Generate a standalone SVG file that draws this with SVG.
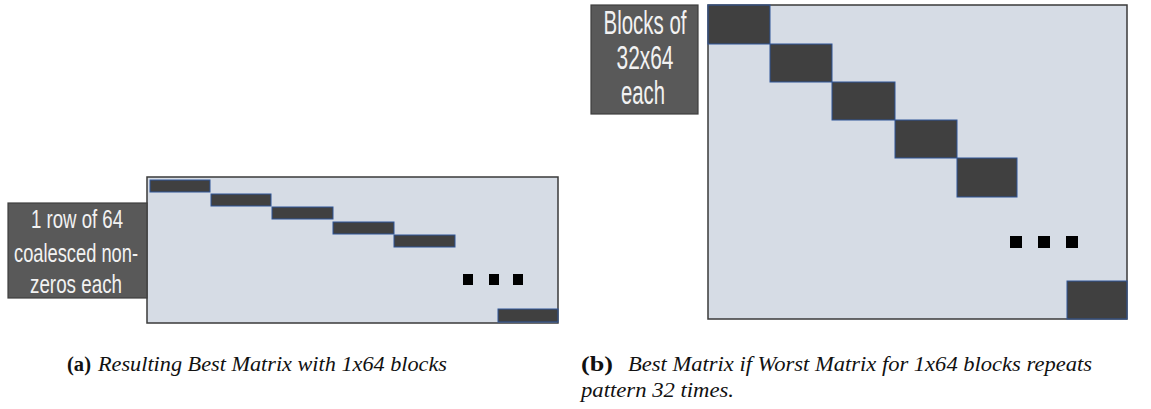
<svg xmlns="http://www.w3.org/2000/svg" width="1151" height="409" viewBox="0 0 1151 409">
  <style>
    .matrix { fill: #d6dce5; stroke: #3a3a3a; stroke-width: 1.5; }
    .block { fill: #404040; stroke: #2f5597; stroke-width: 1; }
    .dot { fill: #000000; }
    .labelbox { fill: #595959; stroke: #3f3f3f; stroke-width: 1.2; }
    .label { fill: #f2f2f2; font-family: "Liberation Sans", "DejaVu Sans", sans-serif; text-anchor: middle; }
    .cap { font-family: "Liberation Serif", "DejaVu Serif", serif; font-size: 20px; fill: #111111; }
    .capb { font-weight: bold; font-style: normal; }
    .capi { font-style: italic; }
  </style>

  <!-- (a) row-block matrix -->
  <g id="matrix-a">
    <rect class="matrix" x="147" y="177" width="411" height="146"/>
    <rect class="block" x="150" y="180" width="60" height="12"/>
    <rect class="block" x="211" y="194" width="60" height="12"/>
    <rect class="block" x="272" y="207" width="61" height="12"/>
    <rect class="block" x="333" y="222" width="61" height="12"/>
    <rect class="block" x="394" y="235" width="61" height="12"/>
    <rect class="block" x="498" y="309" width="60" height="13"/>
    <rect class="dot" x="463" y="274" width="10" height="11"/>
    <rect class="dot" x="489" y="274" width="10" height="11"/>
    <rect class="dot" x="513" y="274" width="10" height="11"/>
  </g>

  <g id="label-a">
    <rect class="labelbox" x="8" y="203" width="139" height="95"/>
    <text class="label" x="77" y="228" font-size="25" textLength="92" lengthAdjust="spacingAndGlyphs">1 row of 64</text>
    <text class="label" x="76" y="262" font-size="25" textLength="124" lengthAdjust="spacingAndGlyphs">coalesced non-</text>
    <text class="label" x="76" y="293" font-size="25" textLength="92" lengthAdjust="spacingAndGlyphs">zeros each</text>
  </g>

  <!-- (b) 32x64 block matrix -->
  <g id="matrix-b">
    <rect class="matrix" x="708" y="5" width="419" height="314"/>
    <rect class="block" x="708" y="5" width="62" height="39"/>
    <rect class="block" x="770" y="44" width="62" height="38"/>
    <rect class="block" x="832" y="82" width="63" height="38"/>
    <rect class="block" x="895" y="120" width="62" height="38"/>
    <rect class="block" x="957" y="158" width="60" height="39"/>
    <rect class="block" x="1067" y="281" width="60" height="38"/>
    <rect class="dot" x="1010" y="236" width="12" height="12"/>
    <rect class="dot" x="1038" y="236" width="12" height="12"/>
    <rect class="dot" x="1066" y="236" width="12" height="12"/>
  </g>

  <g id="label-b">
    <rect class="labelbox" x="591" y="5" width="107" height="109"/>
    <text class="label" x="645" y="34" font-size="33" textLength="83" lengthAdjust="spacingAndGlyphs">Blocks of</text>
    <text class="label" x="645" y="69" font-size="33" textLength="57" lengthAdjust="spacingAndGlyphs">32x64</text>
    <text class="label" x="643" y="104" font-size="33" textLength="44" lengthAdjust="spacingAndGlyphs">each</text>
  </g>

  <!-- captions -->
  <g id="caption-a">
    <text class="cap capb" x="67" y="371" textLength="24" lengthAdjust="spacingAndGlyphs">(a)</text>
    <text class="cap capi" x="98" y="371" textLength="349" lengthAdjust="spacingAndGlyphs">Resulting Best Matrix with 1x64 blocks</text>
  </g>
  <g id="caption-b">
    <text class="cap capb" x="581" y="371" textLength="32" lengthAdjust="spacingAndGlyphs">(b)</text>
    <text class="cap capi" x="628" y="371" textLength="464" lengthAdjust="spacingAndGlyphs">Best Matrix if Worst Matrix for 1x64 blocks repeats</text>
    <text class="cap capi" x="581" y="397" textLength="153" lengthAdjust="spacingAndGlyphs">pattern 32 times.</text>
  </g>
</svg>
